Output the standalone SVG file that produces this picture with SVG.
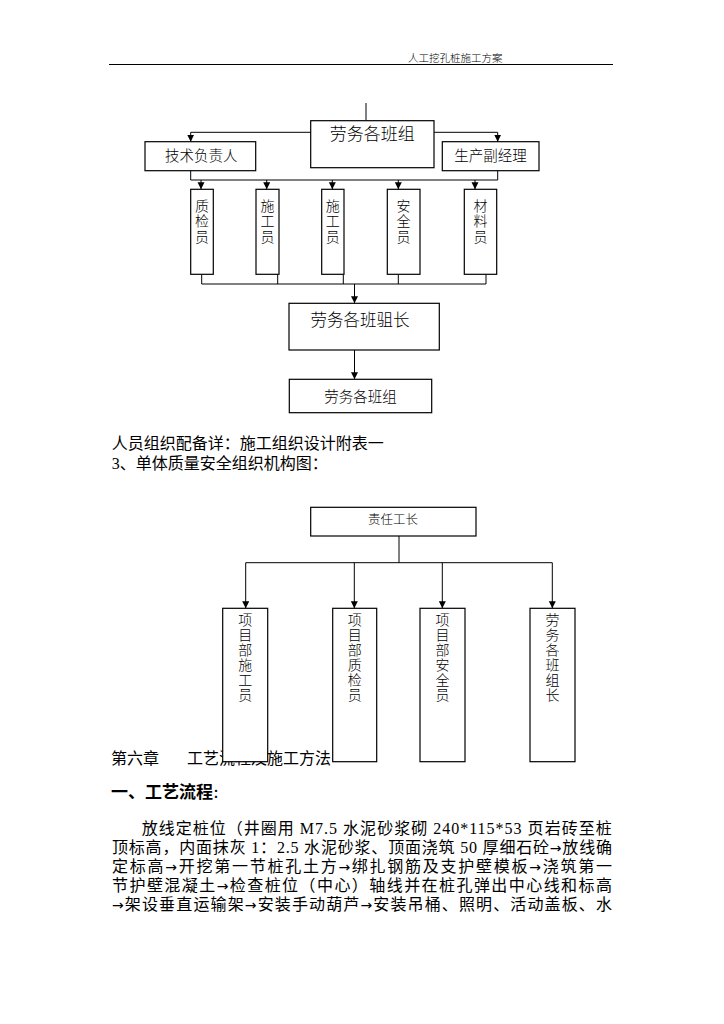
<svg xmlns="http://www.w3.org/2000/svg" width="724" height="1024" viewBox="0 0 724 1024">
<style>
.box{fill:#fff;stroke:#000;stroke-width:1.2}
.ln{fill:none;stroke:#000;stroke-width:1}
.t{font-family:"Noto Sans CJK SC",sans-serif;fill:#000;font-weight:300}
.s{font-family:"Liberation Serif","Noto Sans CJK SC",serif;fill:#000;font-size:16px}
.c{text-anchor:middle}
.v{font-family:"Noto Sans CJK SC",sans-serif;fill:#000;font-weight:300;font-size:14px;writing-mode:vertical-rl;text-orientation:upright}
.v1{letter-spacing:1.5px}
.v2{letter-spacing:1px}
.ar{font-family:"DejaVu Sans",sans-serif;font-size:14px}
</style>
<defs>
<marker id="ah" markerUnits="userSpaceOnUse" markerWidth="8" markerHeight="8" refX="7" refY="3.5" orient="auto">
<path d="M0,0 L7,3.5 L0,7 z" fill="#000"/>
</marker>
</defs>
<rect width="724" height="1024" fill="#fff"/>
<g id="header">
<text x="408" y="61.5" class="t" font-size="10.5">人工挖孔桩施工方案</text>
<line x1="109" y1="64.5" x2="613" y2="64.5" stroke="#000" stroke-width="1.2"/>
</g>
<g id="connectors1">
<path class="ln" d="M366,103 V120.7"/>
<path class="ln" d="M310.7,132.3 H190.7 V141.7" marker-end="url(#ah)"/>
<path class="ln" d="M434,132.3 H497.7 V141.7" marker-end="url(#ah)"/>
<path class="ln" d="M190.7,170.7 V180 H497.7 V170.7"/>
<path class="ln" d="M201,180 V189.3" marker-end="url(#ah)"/>
<path class="ln" d="M266.7,180 V189.3" marker-end="url(#ah)"/>
<path class="ln" d="M332.3,180 V189.3" marker-end="url(#ah)"/>
<path class="ln" d="M398.3,180 V189.3" marker-end="url(#ah)"/>
<path class="ln" d="M475,180 V189.3" marker-end="url(#ah)"/>
<path class="ln" d="M201.7,274.3 V284 H486 V274.3"/>
<path class="ln" d="M277.7,274.3 V284"/>
<path class="ln" d="M343.3,274.3 V284"/>
<path class="ln" d="M398.3,274.3 V284"/>
<path class="ln" d="M354.5,284 V303.3" marker-end="url(#ah)"/>
<path class="ln" d="M354.5,350 V379.3" marker-end="url(#ah)"/>
</g>
<g id="n-top"><rect class="box" x="310.7" y="120.7" width="123.3" height="47"/><text class="t c" x="372.3" y="140" font-size="17">劳务各班组</text></g>
<g id="n-tech"><rect class="box" x="145" y="141.7" width="110.7" height="29"/><text class="t c" x="201.3" y="161" font-size="14.5">技术负责人</text></g>
<g id="n-prod"><rect class="box" x="442.3" y="141.7" width="96.7" height="29"/><text class="t c" x="490.6" y="161" font-size="14.5">生产副经理</text></g>
<g id="n-zj"><rect class="box" x="190.7" y="189.3" width="22.6" height="85"/><text class="v v1" x="202" y="198.5">质检员</text></g>
<g id="n-sg1"><rect class="box" x="256" y="189.3" width="23" height="85"/><text class="v v1" x="267.5" y="198.5">施工员</text></g>
<g id="n-sg2"><rect class="box" x="321.7" y="189.3" width="22.3" height="85"/><text class="v v1" x="332.8" y="198.5">施工员</text></g>
<g id="n-aq"><rect class="box" x="387.3" y="189.3" width="32.7" height="85"/><text class="v v1" x="403.6" y="198.5">安全员</text></g>
<g id="n-cl"><rect class="box" x="464.3" y="189.3" width="32.4" height="85"/><text class="v v1" x="480.5" y="198.5">材料员</text></g>
<g id="n-bzz"><rect class="box" x="289" y="303.3" width="150.3" height="46.7"/><text class="t c" x="360" y="326" font-size="16.5">劳务各班驵长</text></g>
<g id="n-bz"><rect class="box" x="289.3" y="379.3" width="142.4" height="33.4"/><text class="t c" x="360.5" y="401.5" font-size="14.5">劳务各班组</text></g>
<g id="body">
<text class="s" x="111.7" y="449">人员组织配备详：施工组织设计附表一</text>
<text class="s" x="111.7" y="468.5">3、单体质量安全组织机构图：</text>
<text class="t" x="111" y="764" font-size="16" style="font-weight:400">第六章<tspan x="187">工艺流程及施工方法</tspan></text>
<text x="111" y="798" font-size="17" font-weight="700" style="font-family:'Noto Sans CJK SC',sans-serif">一、工艺流程<tspan font-size="12">：</tspan></text>
<text class="s" x="141.7" y="834" textLength="470" lengthAdjust="spacing">放线定桩位（井圈用 M7.5 水泥砂浆砌 240*115*53 页岩砖至桩</text>
<text class="s" x="112" y="853" textLength="500" lengthAdjust="spacing">顶标高，内面抹灰 1：2.5 水泥砂浆、顶面浇筑 50 厚细石砼<tspan class="ar">→</tspan>放线确</text>
<text class="s" x="112" y="872" textLength="500" lengthAdjust="spacing">定标高<tspan class="ar">→</tspan>开挖第一节桩孔土方<tspan class="ar">→</tspan>绑扎钢筋及支护壁模板<tspan class="ar">→</tspan>浇筑第一</text>
<text class="s" x="112" y="891" textLength="500" lengthAdjust="spacing">节护壁混凝土<tspan class="ar">→</tspan>检查桩位（中心）轴线并在桩孔弹出中心线和标高</text>
<text class="s" x="112" y="910" textLength="500" lengthAdjust="spacing"><tspan class="ar">→</tspan>架设垂直运输架<tspan class="ar">→</tspan>安装手动葫芦<tspan class="ar">→</tspan>安装吊桶、照明、活动盖板、水</text>
</g>
<g id="connectors2">
<path class="ln" d="M399,536 V562.7"/>
<path class="ln" d="M245.7,562.7 H552.3"/>
<path class="ln" d="M245.7,562.7 V608.3" marker-end="url(#ah)"/>
<path class="ln" d="M354.3,562.7 V608.3" marker-end="url(#ah)"/>
<path class="ln" d="M442.3,562.7 V608.3" marker-end="url(#ah)"/>
<path class="ln" d="M552.3,562.7 V608.3" marker-end="url(#ah)"/>
</g>
<g id="n-zrgz"><rect class="box" x="310.7" y="507.3" width="165.3" height="28.7"/><text class="t c" x="393" y="524" font-size="12.5">责任工长</text></g>
<g id="n-xmsg"><rect class="box" x="222.7" y="608.3" width="45" height="153.4"/><text class="v v2" x="245.2" y="613">项目部施工员</text></g>
<g id="n-xmzj"><rect class="box" x="332.7" y="608.3" width="44" height="153.4"/><text class="v v2" x="354.7" y="613">项目部质检员</text></g>
<g id="n-xmaq"><rect class="box" x="420" y="608.3" width="45" height="153.4"/><text class="v v2" x="442.5" y="613">项目部安全员</text></g>
<g id="n-lwbz"><rect class="box" x="530" y="608.3" width="45" height="153.4"/><text class="v v2" x="552.5" y="613">劳务各班组长</text></g>
</svg>
